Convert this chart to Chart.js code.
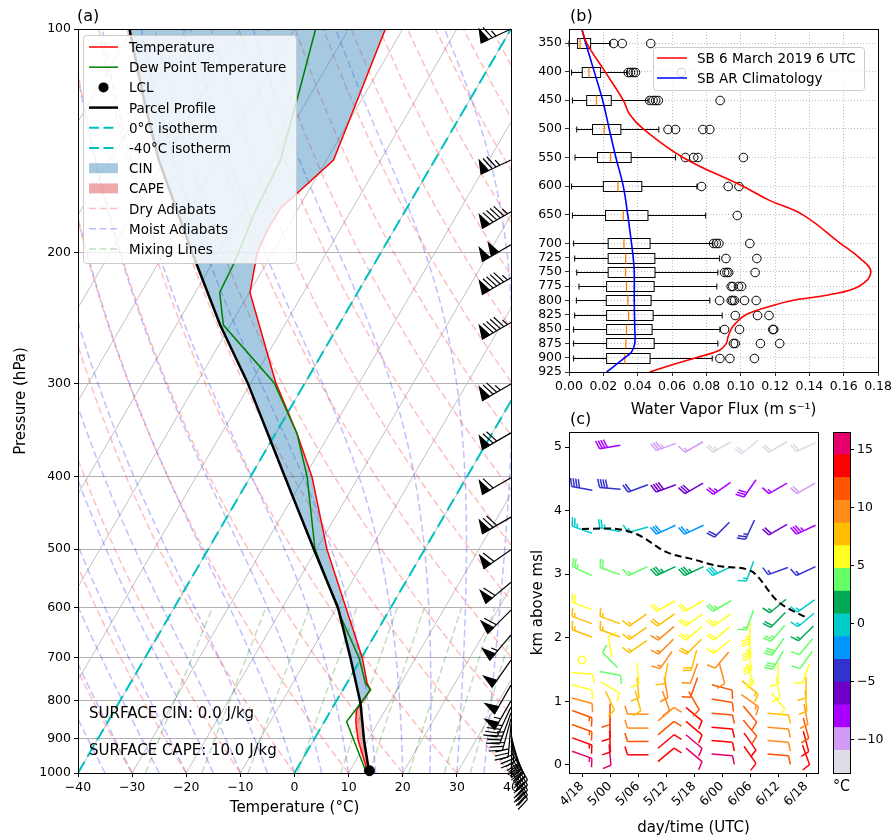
<!DOCTYPE html>
<html>
<head>
<meta charset="utf-8">
<title>Sounding, water vapor flux and wind profiles</title>
<script src="https://cdn.jsdelivr.net/npm/chart.js@4.4.1/dist/chart.umd.min.js"></script>
<style>
  body { margin: 0; background: #fff; }
  #wrap { position: relative; width: 895px; height: 837px; }
  #wrap canvas { position: absolute; left: 0; top: 0; }
</style>
</head>
<body>
<div id="wrap">
  <canvas id="skewt" width="895" height="837"></canvas>
  <canvas id="flux" width="895" height="837"></canvas>
  <canvas id="winds" width="895" height="837"></canvas>
  <canvas id="cbar" width="895" height="837"></canvas>
</div>
<script>
// ---------------- (a) sounding ----------------
var presTicks = [100, 200, 300, 400, 500, 600, 700, 800, 900, 1000];
var tempTicks = [-40, -30, -20, -10, 0, 10, 20, 30, 40];

var tempP = [993, 903, 853, 823, 773, 758, 701, 501, 400, 350, 299, 226, 200, 186, 174, 166, 150, 137, 100];
var tempT = [13.2, 8.2, 5.8, 4.7, 5.1, 3.8, 0.2, -18.0, -28.6, -36.0, -45.4, -59.9, -62.8, -63.4, -63.3, -61.8, -58.7, -59.7, -63.2];

var dewP = [993, 903, 853, 823, 773, 758, 701, 616, 500, 400, 350, 299, 250, 226, 206, 175, 150, 137, 124, 100];
var dewT = [12.9, 7.4, 4.1, 4.5, 5.1, 3.5, -0.4, -8.3, -20.3, -29.5, -36.0, -45.7, -61.3, -65.5, -66.0, -67.7, -68.5, -70.2, -72.0, -76.1];

var parcelP = [993, 903, 853, 806, 698, 600, 501, 400, 299, 250, 200, 150, 125, 100];
var parcelT = [13.5, 9.3, 7.0, 4.7, -2.2, -9.7, -20.4, -33.6, -50.6, -61.9, -74.8, -91.0, -100.0, -110.5];

var lclP = 993, lclT = 13.6;
var surfaceCin = 0.0, surfaceCape = 10.0;

var sndWindP   = [100, 150, 176, 195, 216, 248, 300, 349, 401, 453, 501, 554, 604, 652, 705, 762, 800, 815, 830, 845, 860, 875, 890, 905, 920, 935, 950, 965, 980, 993];
var sndWindDir = [245, 245, 240, 240, 240, 240, 240, 240, 240, 240, 235, 230, 225, 220, 215, 210, 210, 205, 200, 195, 185, 175, 165, 160, 155, 150, 150, 150, 150, 150];
var sndWindSpd = [65, 75, 95, 100, 95, 95, 75, 70, 60, 70, 60, 60, 60, 55, 50, 50, 55, 40, 35, 30, 30, 30, 30, 30, 35, 35, 35, 35, 35, 30];

var isotherms = [-120, -110, -100, -90, -80, -70, -60, -50, -40, -30, -20, -10, 0, 10, 20, 30, 40];
var dryT0 = [-30, -20, -10, 0, 10, 20, 30, 40, 50, 60, 70, 80, 90, 100, 110, 120, 130, 140, 150, 160, 170, 180, 190];
var moistT0 = [-40, -35, -30, -25, -20, -15, -10, -5, 0, 5, 10, 15, 20, 25, 30, 35, 40];
var mixRatios = [0.0004, 0.001, 0.002, 0.004, 0.007, 0.01, 0.016, 0.024, 0.032];
var mixP = [1000, 900, 800, 700, 600];

// ---------------- (b) water vapor flux ----------------
var fluxTicks = [0, 0.02, 0.04, 0.06, 0.08, 0.10, 0.12, 0.14, 0.16, 0.18];
var fluxPTicks = [350, 400, 450, 500, 550, 600, 650, 700, 725, 750, 775, 800, 825, 850, 875, 900, 925];

var boxP   = [350, 400, 450, 500, 550, 600, 650, 700, 725, 750, 775, 800, 825, 850, 875, 900];
var boxLo  = [0.0, 0.0015, 0.002, 0.0045, 0.0035, 0.0015, 0.002, 0.0027, 0.0033, 0.0045, 0.0058, 0.0043, 0.0033, 0.0027, 0.0027, 0.0027];
var boxQ1  = [0.005, 0.0077, 0.0103, 0.0137, 0.0166, 0.020, 0.0213, 0.0228, 0.0228, 0.0228, 0.0219, 0.0217, 0.0219, 0.0219, 0.0219, 0.0219];
var boxMed = [0.0064, 0.0116, 0.016, 0.0205, 0.0242, 0.0285, 0.0316, 0.032, 0.033, 0.0329, 0.0335, 0.0343, 0.0347, 0.0335, 0.0331, 0.0325];
var boxQ3  = [0.0126, 0.0184, 0.0246, 0.0302, 0.0362, 0.0424, 0.046, 0.0472, 0.050, 0.0501, 0.0496, 0.0478, 0.049, 0.0484, 0.0496, 0.0472];
var boxHi  = [0.024, 0.034, 0.046, 0.0523, 0.062, 0.0745, 0.0796, 0.0838, 0.0877, 0.0867, 0.0861, 0.082, 0.0892, 0.0879, 0.0867, 0.0834];
var boxOut = [
  [0.026, 0.031, 0.0476],
  [0.0345, 0.0358, 0.0374, 0.0387, 0.0654],
  [0.047, 0.049, 0.0505, 0.052, 0.088],
  [0.0577, 0.062, 0.078, 0.082],
  [0.0678, 0.0726, 0.0751, 0.1016],
  [0.0772, 0.0927, 0.099],
  [0.098],
  [0.0842, 0.0858, 0.0873, 0.1053],
  [0.0914, 0.1094],
  [0.0906, 0.092, 0.093, 0.1084],
  [0.0945, 0.0954, 0.0987, 0.1005],
  [0.0877, 0.0945, 0.0954, 0.0964, 0.1022, 0.109],
  [0.0968, 0.1098, 0.1165],
  [0.0906, 0.0993, 0.1187, 0.1192],
  [0.0958, 0.0968, 0.1115, 0.1227],
  [0.0879, 0.0937, 0.108]
];

var caseP    = [325, 350, 400, 450, 475, 500, 550, 600, 625, 650, 700, 725, 750, 775, 790, 800, 812, 825, 840, 850, 865, 875, 887, 900, 912, 925];
var caseFlux = [0.0074, 0.0103, 0.021, 0.0316, 0.0354, 0.0432, 0.0664, 0.101, 0.1167, 0.136, 0.158, 0.169, 0.1758, 0.169, 0.1516, 0.130, 0.115, 0.103, 0.097, 0.0945, 0.0925, 0.0916, 0.0877, 0.074, 0.0606, 0.047];
var climP    = [325, 350, 400, 450, 500, 550, 600, 650, 700, 725, 750, 800, 850, 875, 890, 900, 925];
var climFlux = [0.0074, 0.0097, 0.0147, 0.0196, 0.0234, 0.0273, 0.0316, 0.0342, 0.0364, 0.0374, 0.038, 0.038, 0.0383, 0.0383, 0.0364, 0.0325, 0.0219];

// ---------------- (c) wind profiles ----------------
var windTimes = [0, 6, 12, 18, 24, 30, 36, 42, 48];
var windTimeLabels = ['4/18', '5/00', '5/06', '5/12', '5/18', '6/00', '6/06', '6/12', '6/18'];
var windHgt = [0.16, 0.37, 0.58, 0.8, 1.01, 1.22, 1.44, 1.65, 1.86, 2.07, 2.28, 2.5, 3.05, 3.7, 4.35, 5.0];
var windDir = [
  [110, 110, 110, 110, 105, 105, 95, 0, null, 290, 290, 290, 295, 290, 280, null],
  [175, 178, 180, 180, 155, 120, 100, 315, 350, 290, 290, null, 290, 280, 275, 260],
  [270, 270, 270, 270, 165, 175, 175, null, 235, 235, 235, null, 245, 255, 250, null],
  [50, 50, 50, 50, 160, 170, 190, 215, 225, 230, 235, 240, 245, 245, 250, 250],
  [130, 130, 130, 130, 150, 200, 200, 195, 225, 230, 235, 240, 245, 245, 240, 240],
  [95, 95, 95, 95, 100, 105, 165, 220, 230, 230, 235, 240, 245, 225, 235, 240],
  [145, 145, 140, 140, 125, 130, 160, 170, 175, 180, 200, null, 200, 205, 215, 230],
  [95, 95, 95, 95, 140, 170, 180, 210, 215, 220, 225, 230, 250, 240, 240, 240],
  [160, 165, 165, 170, 175, 180, 200, 215, 220, 225, 230, 235, 245, 245, 240, 245]
];
var windSpd = [
  [15, 15, 15, 15, 10, 10, 10, 0, null, 15, 15, 20, 25, 25, 40, null],
  [10, 10, 10, 10, 10, 10, 10, 10, 10, 15, 15, null, 20, 25, 40, 40],
  [10, 10, 10, 10, 10, 10, 10, null, 15, 15, 15, null, 15, 15, 20, null],
  [10, 10, 10, 10, 10, 10, 10, 15, 15, 15, 20, 20, 35, 30, 40, 35],
  [10, 10, 10, 10, 10, 10, 10, 20, 20, 25, 25, 20, 35, 25, 30, 15],
  [10, 10, 10, 10, 10, 10, 10, 10, 15, 20, 25, 25, 30, 20, 25, 25],
  [10, 10, 10, 10, 15, 15, 25, 30, 35, 35, 15, null, 15, 25, 30, 20],
  [10, 10, 10, 10, 10, 10, 10, 30, 30, 25, 20, 15, 15, 20, 15, 20],
  [10, 10, 10, 10, 10, 10, 10, 10, 10, 15, 15, 15, 15, 35, 20, 20]
];
var windTemp = [
  [15, 13.5, 11.5, 11, 9, 6, 6, 6, null, 8, 8, 6, 3.5, 0, -4, null],
  [15, 13.5, 13.5, 12, 8.5, 6, 4, 4, 6, 8, 8, null, 4, 0, -4, -8],
  [13.5, 11.5, 10, 10, 8, 8, 6, null, 8, 8, 8, null, 3.5, 0, -4, null],
  [14, 13.5, 11.5, 10, 9.5, 9.5, 8, 9.5, 9.5, 9.5, 8, 6, 1.5, -2, -6, -10],
  [15, 15, 13.5, 13.5, 11.5, 11.5, 9.5, 8, 8, 6, 6, 6, 1.5, -2, -6, -10],
  [15, 13.5, 13.5, 11.5, 11.5, 11.5, 9.5, 9.5, 6, 6, 6, 4, 0, -4, -8, -12],
  [13.5, 13.5, 11.5, 11.5, 9.5, 8, 6, 6, 6, 6, 4, null, 0, -4, -8, -12],
  [11.5, 9.5, 9.5, 8, 6, 6, 6, 4, 4, 4, 1.5, 1.5, -4, -6, -8, -12],
  [13.5, 13.5, 11.5, 9.5, 8, 8, 6, 4, 4, 1.5, 0, 0, -4, -8, -10, -12]
];
var frzHgt = [3.71, 3.72, 3.62, 3.35, 3.23, 3.12, 3.06, 2.57, 2.32];

var cbBounds = [-12.9, -10.94, -8.98, -7.02, -5.06, -3.1, -1.14, 0.82, 2.78, 4.74, 6.7, 8.66, 10.62, 12.58, 14.54, 16.5];
var cbColors = ['#dcdce6', '#d29bf5', '#aa00ff', '#7000c8', '#3333cc', '#0096ff', '#00cccc', '#00aa55', '#66ff66', '#ffff22', '#ffbf00', '#ff8c1a', '#ff5500', '#ff0000', '#e6006e'];
var cbTicks = [-10, -5, 0, 5, 10, 15];

// ---------------- helpers ----------------
Chart.defaults.font.family = "'DejaVu Sans', sans-serif";
Chart.defaults.font.size = 12.5;
Chart.defaults.color = '#000';
Chart.defaults.animation = false;
Chart.defaults.events = [];
Chart.defaults.plugins.legend.display = false;
Chart.defaults.plugins.tooltip.enabled = false;

var SKEW = 80;
function skx(t, p) { return t + SKEW * Math.log10(1000 / p); }
function minus(v) { return String(v).replace('-', '\u2212'); }

var Rd = 287.04, Cp = 1005.7, Lv = 2.501e6, EPS = 0.622;
function satVap(tc) { return 6.112 * Math.exp(17.67 * tc / (tc + 243.5)); }
function moistRate(T, p) {
  var es = satVap(T - 273.15), rs = EPS * es / (p - es);
  return (Rd * T + Lv * rs) / (Cp + Lv * Lv * rs * EPS / (Rd * T * T));
}
function moistLine(t0) {
  var T = t0 + 273.15, p = 1000, n = 180, dl = Math.log(0.1) / n, pts = [{x: skx(t0, 1000), y: 1000}];
  for (var i = 0; i < n; i++) {
    var k1 = moistRate(T, p);
    var k2 = moistRate(T + k1 * dl / 2, p * Math.exp(dl / 2));
    T += k2 * dl; p *= Math.exp(dl);
    if (i % 4 === 3) pts.push({x: skx(T - 273.15, p), y: p});
  }
  return pts;
}
function dryLine(t0) {
  var pts = [];
  for (var p = 1000; p >= 100; p -= 20) pts.push({x: skx((t0 + 273.15) * Math.pow(p / 1000, 0.2857) - 273.15, p), y: p});
  return pts;
}
function mixLine(w) {
  return mixP.map(function (p) {
    var e = w * p / (EPS + w), l = Math.log(e / 6.112);
    return {x: skx(243.5 * l / (17.67 - l), p), y: p};
  });
}
function profile(P, T) { return P.map(function (p, i) { return {x: skx(T[i], p), y: p}; }); }

function interpLog(P, V, p) {
  for (var i = 0; i < P.length - 1; i++) {
    if (p <= P[i] && p >= P[i + 1]) {
      var f = Math.log(P[i] / p) / Math.log(P[i] / P[i + 1]);
      return V[i] + f * (V[i + 1] - V[i]);
    }
  }
  return null;
}
function buildAreas() {
  var top = Math.max(tempP[tempP.length - 1], parcelP[parcelP.length - 1]);
  var bot = Math.min(tempP[0], parcelP[0]);
  var lv = Array.from(new Set(tempP.concat(parcelP))).filter(function (p) { return p <= bot && p >= top; });
  lv.sort(function (a, b) { return b - a; });
  var rows = lv.map(function (p) { return {p: p, a: interpLog(parcelP, parcelT, p), b: interpLog(tempP, tempT, p)}; });
  var pts = [];
  rows.forEach(function (r, i) {
    pts.push(r);
    var n = rows[i + 1];
    if (!n) return;
    var d0 = r.a - r.b, d1 = n.a - n.b;
    if (d0 * d1 < 0) {
      var f = d0 / (d0 - d1);
      var pc = Math.exp(Math.log(r.p) + f * (Math.log(n.p) - Math.log(r.p)));
      var v = r.a + f * (n.a - r.a);
      pts.push({p: pc, a: v, b: v});
    }
  });
  var out = {cape: [], cin: []}, seg = [], kind = null;
  pts.forEach(function (r) {
    var d = r.a - r.b;
    if (d === 0) {
      seg.push(r);
      if (kind) out[kind].push(seg);
      seg = [r]; kind = null;
      return;
    }
    kind = d > 0 ? 'cape' : 'cin';
    seg.push(r);
  });
  if (kind && seg.length > 1) out[kind].push(seg);
  function poly(s) {
    return s.map(function (r) { return {x: skx(r.a, r.p), y: r.p}; })
      .concat(s.slice().reverse().map(function (r) { return {x: skx(r.b, r.p), y: r.p}; }));
  }
  return {cape: out.cape.map(poly), cin: out.cin.map(poly)};
}

function drawBarb(ctx, x, y, dir, spd, L, color, pivot, lw) {
  ctx.strokeStyle = color; ctx.fillStyle = color; ctx.lineWidth = lw;
  var s = Math.round(spd / 5) * 5;
  if (s < 5) { ctx.beginPath(); ctx.arc(x, y, 0.18 * L, 0, 2 * Math.PI); ctx.stroke(); return; }
  var r = dir * Math.PI / 180;
  var sx = Math.sin(r), sy = -Math.cos(r), fx = Math.cos(r), fy = Math.sin(r);
  var tx = x, ty = y;
  if (pivot === 'middle') { tx -= sx * L / 2; ty -= sy * L / 2; }
  function P(a, b) { return [tx + sx * a + fx * b, ty + sy * a + fy * b]; }
  function seg(a, b) { ctx.beginPath(); ctx.moveTo(a[0], a[1]); ctx.lineTo(b[0], b[1]); ctx.stroke(); }
  var nf = Math.floor(s / 50); s -= nf * 50;
  var nb = Math.floor(s / 10); s -= nb * 10;
  var half = s >= 5;
  var sp = 0.125 * L, h = 0.4 * L, w = 0.25 * L, off = L, i;
  seg(P(0, 0), P(L, 0));
  for (i = 0; i < nf; i++) {
    if (off !== L) off += sp / 2;
    var a = P(off, 0), b = P(off - w / 2, h), c = P(off - w, 0);
    ctx.beginPath(); ctx.moveTo(a[0], a[1]); ctx.lineTo(b[0], b[1]); ctx.lineTo(c[0], c[1]); ctx.closePath();
    ctx.fill(); ctx.stroke();
    off -= w + sp;
  }
  for (i = 0; i < nb; i++) { seg(P(off, 0), P(off + w / 2, h)); off -= sp; }
  if (half) { if (off === L) off -= 1.5 * sp; seg(P(off, 0), P(off + w / 4, h / 2)); }
}

function tempColor(t) {
  for (var i = 0; i < cbColors.length; i++) if (t < cbBounds[i + 1]) return cbColors[i];
  return cbColors[cbColors.length - 1];
}

var framePlugin = {
  id: 'frame',
  afterDraw: function (chart) {
    var a = chart.chartArea, c = chart.ctx;
    c.save(); c.strokeStyle = '#000'; c.lineWidth = 1;
    c.strokeRect(Math.round(a.left) + 0.5, Math.round(a.top) + 0.5, Math.round(a.right - a.left), Math.round(a.bottom - a.top));
    c.restore();
  }
};
function label(ctx, txt, x, y, size, align) {
  ctx.font = size + "px 'DejaVu Sans', sans-serif";
  ctx.fillStyle = '#000'; ctx.textAlign = align || 'left'; ctx.textBaseline = 'alphabetic';
  ctx.fillText(txt, x, y);
}
function legendBox(ctx, x, y, w, h) {
  ctx.save();
  ctx.fillStyle = 'rgba(255,255,255,0.8)'; ctx.strokeStyle = '#cccccc'; ctx.lineWidth = 1;
  ctx.beginPath();
  if (ctx.roundRect) ctx.roundRect(x + 0.5, y + 0.5, w, h, 3); else ctx.rect(x + 0.5, y + 0.5, w, h);
  ctx.fill(); ctx.stroke();
  ctx.restore();
}

// ---------------- (a) chart ----------------
var skewSets = [];
function addLine(pts, color, width, dash, order) {
  skewSets.push({data: pts, showLine: true, borderColor: color, borderWidth: width, borderDash: dash || [], pointRadius: 0, fill: false, order: order});
}
isotherms.forEach(function (t) { addLine([{x: skx(t, 1000), y: 1000}, {x: skx(t, 100), y: 100}], '#b3b3b3', 0.8, null, 40); });
dryT0.forEach(function (t) { addLine(dryLine(t), 'rgba(255,0,0,0.25)', 1.5, [7, 3.5], 35); });
moistT0.forEach(function (t) { addLine(moistLine(t), 'rgba(0,0,255,0.25)', 1.5, [7, 3.5], 35); });
mixRatios.forEach(function (w) { addLine(mixLine(w), 'rgba(0,128,0,0.25)', 1.5, [7, 3.5], 35); });
var areas = buildAreas();
areas.cin.forEach(function (pts) {
  skewSets.push({data: pts, showLine: true, fill: 'shape', backgroundColor: 'rgba(31,119,180,0.4)', borderColor: 'transparent', borderWidth: 0, pointRadius: 0, order: 20});
});
areas.cape.forEach(function (pts) {
  skewSets.push({data: pts, showLine: true, fill: 'shape', backgroundColor: 'rgba(214,39,40,0.4)', borderColor: 'transparent', borderWidth: 0, pointRadius: 0, order: 20});
});
addLine([{x: skx(0, 1000), y: 1000}, {x: skx(0, 100), y: 100}], '#00bfbf', 2, [13, 6], 15);
addLine([{x: skx(-40, 1000), y: 1000}, {x: skx(-40, 100), y: 100}], '#00bfbf', 2, [13, 6], 15);
addLine(profile(tempP, tempT), '#ff0000', 1.5, null, 4);
addLine(profile(dewP, dewT), '#008000', 1.5, null, 3);
addLine(profile(parcelP, parcelT), '#000000', 2.5, null, 2);
skewSets.push({data: [{x: skx(lclT, lclP), y: lclP}], pointRadius: 5, backgroundColor: '#000', borderColor: '#000', order: 1, clip: false});

var legendA = [
  {t: 'Temperature', k: 'line', c: '#ff0000', w: 1.5},
  {t: 'Dew Point Temperature', k: 'line', c: '#008000', w: 1.5},
  {t: 'LCL', k: 'dot', c: '#000'},
  {t: 'Parcel Profile', k: 'line', c: '#000', w: 2.5},
  {t: '0\u00b0C isotherm', k: 'dash', c: '#00bfbf', w: 2},
  {t: '-40\u00b0C isotherm', k: 'dash', c: '#00bfbf', w: 2},
  {t: 'CIN', k: 'patch', c: 'rgba(31,119,180,0.4)'},
  {t: 'CAPE', k: 'patch', c: 'rgba(214,39,40,0.4)'},
  {t: 'Dry Adiabats', k: 'dash', c: 'rgba(255,0,0,0.25)', w: 1.5},
  {t: 'Moist Adiabats', k: 'dash', c: 'rgba(0,0,255,0.25)', w: 1.5},
  {t: 'Mixing Lines', k: 'dash', c: 'rgba(0,128,0,0.25)', w: 1.5}
];

var skewDecor = {
  id: 'skewDecor',
  afterDatasetsDraw: function (chart) {
    var ctx = chart.ctx, xs = chart.scales.x, ys = chart.scales.y;
    ctx.save();
    sndWindP.forEach(function (p, i) {
      drawBarb(ctx, xs.right, ys.getPixelForValue(p), sndWindDir[i], sndWindSpd[i], 33, '#000', 'tip', 1.2);
    });
    ctx.restore();
  },
  afterDraw: function (chart) {
    var ctx = chart.ctx;
    ctx.save();
    legendBox(ctx, 83, 35, 213, 228);
    legendA.forEach(function (it, i) {
      var y = 47 + i * 20.2;
      ctx.setLineDash([]);
      if (it.k === 'line' || it.k === 'dash') {
        ctx.strokeStyle = it.c; ctx.lineWidth = it.w;
        ctx.setLineDash(it.k === 'dash' ? (it.w > 1.8 ? [10, 4.5] : [7, 3.5]) : []);
        ctx.beginPath(); ctx.moveTo(89, y); ctx.lineTo(118, y); ctx.stroke();
      } else if (it.k === 'dot') {
        ctx.fillStyle = it.c; ctx.beginPath(); ctx.arc(103.5, y, 5, 0, 2 * Math.PI); ctx.fill();
      } else {
        ctx.fillStyle = it.c; ctx.fillRect(89, y - 5, 29, 10);
      }
      ctx.setLineDash([]);
      label(ctx, it.t, 129, y + 5, 13.5);
    });
    label(ctx, '(a)', 77, 21, 16);
    label(ctx, 'SURFACE CIN: ' + surfaceCin.toFixed(1) + ' J/kg', 89, 718, 15);
    label(ctx, 'SURFACE CAPE: ' + surfaceCape.toFixed(1) + ' J/kg', 89, 755, 15);
    ctx.restore();
  }
};

new Chart('skewt', {
  type: 'scatter',
  data: {datasets: skewSets},
  options: {
    responsive: false,
    layout: {padding: {left: 12, right: 384, top: 29, bottom: 20}},
    scales: {
      x: {
        type: 'linear', min: -40, max: 40,
        afterBuildTicks: function (s) { s.ticks = tempTicks.map(function (v) { return {value: v}; }); },
        afterFit: function (s) { s.height = 44; },
        ticks: {maxRotation: 0, autoSkip: false, padding: 3, callback: function (v) { return minus(v); }},
        grid: {drawOnChartArea: false, tickLength: 4, tickColor: '#000'},
        border: {display: false},
        title: {display: true, text: 'Temperature (\u00b0C)', font: {size: 15}, padding: 0}
      },
      y: {
        type: 'logarithmic', reverse: true, min: 100, max: 1000,
        afterBuildTicks: function (s) { s.ticks = presTicks.map(function (v) { return {value: v}; }); },
        afterFit: function (s) { s.width = 66; },
        ticks: {autoSkip: false, padding: 3, callback: function (v) { return String(v); }},
        grid: {color: '#b0b0b0', lineWidth: 1, tickLength: 4, tickColor: '#000'},
        border: {display: false},
        title: {display: true, text: 'Pressure (hPa)', font: {size: 15}, padding: 0}
      }
    }
  },
  plugins: [framePlugin, skewDecor]
});

// ---------------- (b) chart ----------------
var boxPlugin = {
  id: 'boxes',
  beforeDatasetsDraw: function (chart) {
    var ctx = chart.ctx, xs = chart.scales.x, ys = chart.scales.y;
    ctx.save();
    boxP.forEach(function (p, i) {
      var y = Math.round(ys.getPixelForValue(p)) + 0.5;
      var X = function (v) { return xs.getPixelForValue(v); };
      ctx.strokeStyle = '#000'; ctx.lineWidth = 1;
      ctx.beginPath();
      ctx.moveTo(X(boxLo[i]), y); ctx.lineTo(X(boxQ1[i]), y);
      ctx.moveTo(X(boxQ3[i]), y); ctx.lineTo(X(boxHi[i]), y);
      ctx.moveTo(X(boxLo[i]), y - 3); ctx.lineTo(X(boxLo[i]), y + 3);
      ctx.moveTo(X(boxHi[i]), y - 3); ctx.lineTo(X(boxHi[i]), y + 3);
      ctx.stroke();
      ctx.strokeRect(X(boxQ1[i]), y - 5, X(boxQ3[i]) - X(boxQ1[i]), 10);
      ctx.strokeStyle = '#ff7f0e'; ctx.lineWidth = 1.3;
      ctx.beginPath(); ctx.moveTo(X(boxMed[i]), y - 5); ctx.lineTo(X(boxMed[i]), y + 5); ctx.stroke();
      ctx.strokeStyle = '#000'; ctx.lineWidth = 1;
      boxOut[i].forEach(function (v) { ctx.beginPath(); ctx.arc(X(v), y, 4.3, 0, 2 * Math.PI); ctx.stroke(); });
    });
    ctx.restore();
  },
  afterDraw: function (chart) {
    var ctx = chart.ctx;
    ctx.save();
    legendBox(ctx, 653, 47, 211, 43);
    ctx.lineWidth = 1.5;
    ctx.strokeStyle = '#ff0000'; ctx.beginPath(); ctx.moveTo(657, 58); ctx.lineTo(687, 58); ctx.stroke();
    ctx.strokeStyle = '#0000ff'; ctx.beginPath(); ctx.moveTo(657, 78); ctx.lineTo(687, 78); ctx.stroke();
    label(ctx, chart.data.datasets[0].label, 697, 63, 13.5);
    label(ctx, chart.data.datasets[1].label, 697, 83, 13.5);
    label(ctx, '(b)', 570, 21, 16);
    ctx.restore();
  }
};

new Chart('flux', {
  type: 'scatter',
  data: {datasets: [
    {label: 'SB 6 March 2019 6 UTC', data: caseP.map(function (p, i) { return {x: caseFlux[i], y: p}; }), showLine: true, borderColor: '#ff0000', borderWidth: 1.6, pointRadius: 0, tension: 0.4},
    {label: 'SB AR Climatology', data: climP.map(function (p, i) { return {x: climFlux[i], y: p}; }), showLine: true, borderColor: '#0000ff', borderWidth: 1.6, pointRadius: 0, tension: 0.4}
  ]},
  options: {
    responsive: false,
    layout: {padding: {left: 519, right: 16, top: 29, bottom: 418}},
    scales: {
      x: {
        type: 'linear', min: 0, max: 0.18,
        afterBuildTicks: function (s) { s.ticks = fluxTicks.map(function (v) { return {value: v}; }); },
        afterFit: function (s) { s.height = 47; },
        ticks: {maxRotation: 0, autoSkip: false, padding: 3, callback: function (v) { return v.toFixed(2); }},
        grid: {color: '#b0b0b0', lineWidth: 0.8, tickLength: 4, tickColor: '#000', tickBorderDash: []},
        border: {display: false, dash: [1, 2]},
        title: {display: true, text: 'Water Vapor Flux (m s\u207b\u00b9)', font: {size: 15}, padding: 0}
      },
      y: {
        type: 'linear', reverse: true, min: 325.5, max: 925,
        afterBuildTicks: function (s) { s.ticks = fluxPTicks.map(function (v) { return {value: v}; }); },
        afterFit: function (s) { s.width = 50; },
        ticks: {autoSkip: false, padding: 3, callback: function (v) { return String(v); }},
        grid: {color: '#b0b0b0', lineWidth: 0.8, tickLength: 4, tickColor: '#000', tickBorderDash: []},
        border: {display: false, dash: [1, 2]}
      }
    }
  },
  plugins: [boxPlugin, framePlugin]
});

// ---------------- (c) chart ----------------
var windPlugin = {
  id: 'windBarbs',
  beforeDatasetsDraw: function (chart) {
    var ctx = chart.ctx, xs = chart.scales.x, ys = chart.scales.y, a = chart.chartArea;
    ctx.save();
    ctx.beginPath(); ctx.rect(a.left, a.top, a.right - a.left, a.bottom - a.top); ctx.clip();
    windTimes.forEach(function (t, i) {
      windHgt.forEach(function (h, j) {
        if (windDir[i][j] === null) return;
        drawBarb(ctx, xs.getPixelForValue(t), ys.getPixelForValue(h), windDir[i][j], windSpd[i][j], 21, tempColor(windTemp[i][j]), 'middle', 1.5);
      });
    });
    ctx.restore();
  },
  afterDraw: function (chart) { label(chart.ctx, '(c)', 570, 424, 16); }
};

new Chart('winds', {
  type: 'scatter',
  data: {datasets: [
    {data: windTimes.map(function (t, i) { return {x: t, y: frzHgt[i]}; }), showLine: true, borderColor: '#000', borderWidth: 2, borderDash: [7, 4], pointRadius: 0, cubicInterpolationMode: 'monotone'}
  ]},
  options: {
    responsive: false,
    layout: {padding: {left: 529, right: 77, top: 432, bottom: 0}},
    scales: {
      x: {
        type: 'linear', min: -2.79, max: 50.57,
        afterBuildTicks: function (s) { s.ticks = windTimes.map(function (v) { return {value: v}; }); },
        afterFit: function (s) { s.height = 64; },
        ticks: {minRotation: 45, maxRotation: 45, autoSkip: false, padding: 2, callback: function (v) { return windTimeLabels[windTimes.indexOf(v)]; }},
        grid: {drawOnChartArea: false, tickLength: 4, tickColor: '#000'},
        border: {display: false},
        title: {display: true, text: 'day/time (UTC)', font: {size: 15}, padding: 0}
      },
      y: {
        type: 'linear', min: -0.126, max: 5.236,
        afterBuildTicks: function (s) { s.ticks = [0, 1, 2, 3, 4, 5].map(function (v) { return {value: v}; }); },
        afterFit: function (s) { s.width = 40; },
        ticks: {autoSkip: false, padding: 3},
        grid: {drawOnChartArea: false, tickLength: 4, tickColor: '#000'},
        border: {display: false},
        title: {display: true, text: 'km above msl', font: {size: 15}, padding: 0}
      }
    }
  },
  plugins: [windPlugin, framePlugin]
});

// ---------------- colour bar ----------------
new Chart('cbar', {
  type: 'bar',
  data: {
    labels: [''],
    datasets: cbColors.map(function (c, i) {
      return {data: [[cbBounds[i], cbBounds[i + 1]]], backgroundColor: c, borderWidth: 0, barPercentage: 1, categoryPercentage: 1, grouped: false};
    })
  },
  options: {
    responsive: false,
    layout: {padding: {left: 833, right: 5, top: 432, bottom: 41}},
    scales: {
      x: {
        afterFit: function (s) { s.height = 23; },
        ticks: {display: false},
        grid: {display: false},
        border: {display: false},
        title: {display: true, text: '\u00b0C', font: {size: 15}, padding: 0}
      },
      y: {
        position: 'right', min: cbBounds[0], max: cbBounds[cbBounds.length - 1],
        afterBuildTicks: function (s) { s.ticks = cbTicks.map(function (v) { return {value: v}; }); },
        afterFit: function (s) { s.width = 40; },
        ticks: {autoSkip: false, padding: 3, callback: function (v) { return minus(v); }},
        grid: {drawOnChartArea: false, tickLength: 4, tickColor: '#000'},
        border: {display: false}
      }
    }
  },
  plugins: [framePlugin]
});
</script>
</body>
</html>
